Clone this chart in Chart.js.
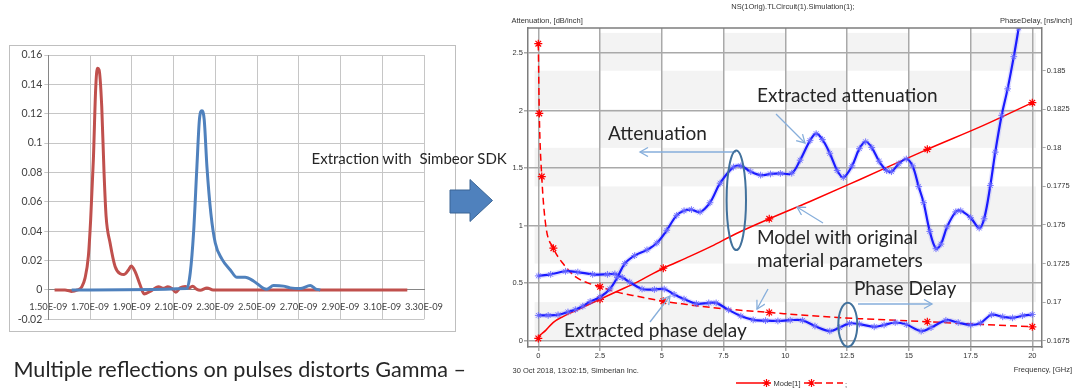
<!DOCTYPE html>
<html>
<head>
<meta charset="utf-8">
<script src="https://cdn.jsdelivr.net/npm/chart.js@4/dist/chart.umd.min.js"></script>
<style>
  html, body { margin: 0; padding: 0; background: #fff; width: 1075px; height: 390px; overflow: hidden; }
  #pulseBox { position: absolute; left: 9px; top: 45px; width: 447px; height: 287px; border: 1px solid #bfbfbf; box-sizing: border-box; background: #fff; }
  #pulseChart { position: absolute; left: 0; top: 0; }
  #simWrap { position: absolute; left: 500px; top: 0; width: 575px; height: 390px; }
  #overlay { position: absolute; left: 0; top: 0; pointer-events: none; }
  #overlay text { font-family: Lato, "Open Sans", sans-serif; fill: #262626; white-space: pre; }
</style>
</head>
<body>
<div id="pulseBox"><canvas id="pulseChart" width="445" height="285"></canvas></div>
<div id="simWrap"><canvas id="simChart" width="575" height="390"></canvas></div>

<svg id="overlay" width="1075" height="390" xmlns="http://www.w3.org/2000/svg" xml:space="preserve">
  <defs>
    <marker id="head" markerUnits="userSpaceOnUse" markerWidth="12" markerHeight="12" refX="9" refY="5" orient="auto">
      <path d="M1,0.5 L9,5 L1,9.5" fill="none" stroke="#86aedb" stroke-width="1.3"/>
    </marker>
  </defs>

  <!-- step between the two plots -->
  <text x="311.5" y="164" font-size="15">Extraction with  Simbeor SDK</text>
  <polygon points="450,190 470,190 470,179.5 492.5,200.5 470,221.5 470,213 450,213" fill="#4f81bd" stroke="#3a6595" stroke-width="1"/>

  <!-- call-outs on the extraction plot -->
  <text x="757" y="101.5" font-size="19">Extracted attenuation</text>
  <line x1="776" y1="114" x2="805" y2="143" stroke="#86aedb" stroke-width="1.3" marker-end="url(#head)"/>

  <text x="608" y="140" font-size="19">Attenuation</text>
  <line x1="736" y1="152" x2="640" y2="152" stroke="#86aedb" stroke-width="1.3" marker-end="url(#head)"/>
  <ellipse cx="736.3" cy="200.3" rx="9.7" ry="49.7" fill="none" stroke="#41719c" stroke-width="2"/>

  <text x="757" y="243.5" font-size="19">Model with original</text>
  <text x="757" y="266.5" font-size="19">material parameters</text>
  <line x1="823" y1="223" x2="797" y2="207" stroke="#86aedb" stroke-width="1.3" marker-end="url(#head)"/>
  <line x1="768" y1="289" x2="757" y2="309" stroke="#86aedb" stroke-width="1.3" marker-end="url(#head)"/>

  <text x="854" y="295" font-size="19">Phase Delay</text>
  <line x1="858" y1="304" x2="932" y2="304" stroke="#86aedb" stroke-width="1.3" marker-end="url(#head)"/>
  <ellipse cx="847.8" cy="324.7" rx="9.5" ry="22" fill="none" stroke="#41719c" stroke-width="2"/>

  <text x="564" y="336.5" font-size="19">Extracted phase delay</text>
  <line x1="650" y1="322" x2="670" y2="296" stroke="#86aedb" stroke-width="1.3" marker-end="url(#head)"/>

  <text x="13.5" y="376.5" font-size="21.6">Multiple reflections on pulses distorts Gamma –</text>
</svg>

<script>
// ---------- Reflected pulses (time domain) ----------
const pulseTimeTicks  = [1.5, 1.7, 1.9, 2.1, 2.3, 2.5, 2.7, 2.9, 3.1, 3.3];
const pulseTimeLabels = ['1.50E-09', '1.70E-09', '1.90E-09', '2.10E-09', '2.30E-09',
                         '2.50E-09', '2.70E-09', '2.90E-09', '3.10E-09', '3.30E-09'];
const pulseValueTicks  = [-0.02, 0, 0.02, 0.04, 0.06, 0.08, 0.1, 0.12, 0.14, 0.16];
const pulseValueLabels = ['-0.02', '0', '0.02', '0.04', '0.06', '0.08', '0.1', '0.12', '0.14', '0.16'];

// time in ns, reflection amplitude
const firstPulseTime = [1.53, 1.58, 1.61, 1.64, 1.66, 1.676, 1.692, 1.703, 1.716, 1.727, 1.735, 1.743,
  1.756, 1.767, 1.777, 1.796, 1.82, 1.845, 1.862, 1.884, 1.897, 1.916, 1.94, 1.959, 1.988, 2.028,
  2.052, 2.073, 2.092, 2.111, 2.132, 2.156, 2.175, 2.192, 2.21, 2.228, 2.26, 2.29, 3.22];
const firstPulseValue = [0, 0, -0.001, 0, 0.002, 0.008, 0.023, 0.048, 0.089, 0.137, 0.151, 0.150,
  0.125, 0.080, 0.050, 0.032, 0.016, 0.011, 0.0105, 0.0136, 0.0163, 0.0125, 0.0034, -0.0027, -0.001, 0.0022,
  0.0011, 0.0022, 0.001, -0.0015, 0.0015, 0.0024, 0.0015, 0.0025, 0.0005, -0.0002, 0.0014, 0, 0];

const secondPulseTime = [1.612, 2.164, 2.18, 2.196, 2.212, 2.224, 2.236, 2.247, 2.26, 2.279, 2.30,
  2.332, 2.372, 2.404, 2.443, 2.483, 2.531, 2.547, 2.579, 2.627, 2.659, 2.707, 2.755, 2.779, 2.803];
const secondPulseValue = [0, 0.001, 0.0115, 0.039, 0.084, 0.116, 0.122, 0.116, 0.084, 0.052, 0.032,
  0.021, 0.0136, 0.0086, 0.0086, 0.0061, 0.0011, 0.0005, 0.003, 0.0026, 0.0014, 0.0009, 0.003, 0.0008, 0];

// ---------- Extracted line parameters (frequency domain) ----------
const freqTicks  = [0, 2.5, 5, 7.5, 10, 12.5, 15, 17.5, 20];
const attenTicks = [0, 0.5, 1, 1.5, 2, 2.5];
const delayTicks = [0.1675, 0.17, 0.1725, 0.175, 0.1775, 0.18, 0.1825, 0.185];

// model computed with the original material parameters
const modelFreq   = [0, 0.04, 0.14, 0.3, 0.61, 1.0, 1.5, 2.0, 2.5, 3.2, 4.0, 5.06, 6, 7, 8, 9.35, 11, 13, 15.75, 18, 20];
const modelAtten  = [0.02, 0.04, 0.06, 0.09, 0.16, 0.21, 0.26, 0.31, 0.36, 0.43, 0.51, 0.63, 0.72, 0.82, 0.93, 1.06, 1.21, 1.40, 1.664, 1.87, 2.07];
const modelDelay  = [0.18675, 0.18223, 0.17814, 0.1750, 0.1735, 0.1725, 0.17165, 0.17125, 0.17099, 0.17065, 0.17038,
                     0.17006, 0.16985, 0.16965, 0.16950, 0.16933, 0.16912, 0.16893, 0.16873, 0.16855, 0.1684];
const attenMarked = [1, 0, 0, 0, 0, 0, 0, 0, 1, 0, 0, 1, 0, 0, 0, 1, 0, 0, 1, 0, 1];
const delayMarked = [1, 1, 1, 0, 1, 0, 0, 0, 1, 0, 0, 1, 0, 0, 0, 1, 0, 0, 1, 0, 1];

// attenuation extracted from the reflections
const extAttenFreq = [0, 0.4, 0.8, 1.2, 1.5, 1.8, 2.1, 2.5, 2.9, 3.2, 3.5, 3.9, 4.4, 4.8, 5.2, 5.6, 5.9, 6.2, 6.55, 6.95,
  7.36, 7.9, 8.2, 8.6, 9.0, 9.4, 9.8, 10.26, 10.6, 11.0, 11.25, 11.5, 11.8, 12.1, 12.35, 12.7, 13.0, 13.25, 13.5, 13.8,
  14.1, 14.3, 14.6, 14.9, 15.15, 15.4, 15.6, 15.85, 16.1, 16.3, 16.55, 16.9, 17.1, 17.5, 17.85, 18.05, 18.3, 18.5, 18.76, 19.0,
  19.25, 19.45];
const extAtten = [0.22, 0.22, 0.225, 0.25, 0.27, 0.3, 0.34, 0.38, 0.45, 0.55, 0.67, 0.74, 0.79, 0.85, 0.96, 1.09, 1.13, 1.14, 1.12, 1.20,
  1.37, 1.51, 1.52, 1.47, 1.44, 1.45, 1.455, 1.456, 1.57, 1.74, 1.80, 1.75, 1.63, 1.48, 1.42, 1.52, 1.67, 1.73, 1.68, 1.56,
  1.48, 1.47, 1.54, 1.58, 1.52, 1.34, 1.20, 0.95, 0.80, 0.84, 0.99, 1.12, 1.13, 1.07, 0.98, 1.06, 1.35, 1.64, 1.96, 2.19,
  2.47, 2.72];

// phase delay extracted from the reflections
const extDelayFreq = [0, 0.5, 1.1, 1.6, 2.2, 2.8, 3.1, 3.4, 3.7, 4.2, 4.7, 5.1, 5.5, 5.9, 6.4, 6.9, 7.2, 7.7, 8.2, 8.7,
  9.2, 9.7, 10.2, 10.7, 11.2, 11.8, 12.2, 12.6, 13.0, 13.6, 14.0, 14.45, 14.9, 15.5, 15.9, 16.5, 17.0, 17.5, 17.9, 18.35,
  18.8, 19.2, 19.6, 20];
const extDelay = [0.1717, 0.1718, 0.1720, 0.17195, 0.1718, 0.1718, 0.17183, 0.1716, 0.1713, 0.17085, 0.17082, 0.17085, 0.1705, 0.1702, 0.1699, 0.16995, 0.16995, 0.1695, 0.1691, 0.16885,
  0.1688, 0.16878, 0.16883, 0.16882, 0.16845, 0.16812, 0.16835, 0.16862, 0.16858, 0.1684, 0.16852, 0.16868, 0.16855, 0.16812, 0.16835, 0.16882, 0.16868, 0.16852, 0.16865, 0.16918,
  0.16905, 0.16898, 0.16912, 0.1692];

const zip = (xs, ys) => xs.map((x, i) => ({ x, y: ys[i] }));

// ================= time-domain chart =================
const excelGrid = '#c6c6c6';
const excelFont = { family: 'Lato, "Open Sans", sans-serif', size: 10.5 };
const excelTimeFont = { family: 'Lato, "Open Sans", sans-serif', size: 9.3 };

new Chart(document.getElementById('pulseChart'), {
  type: 'line',
  data: {
    datasets: [
      { data: zip(secondPulseTime, secondPulseValue), borderColor: '#4f81bd', borderWidth: 3,
        pointRadius: 0, cubicInterpolationMode: 'monotone' },
      { data: zip(firstPulseTime, firstPulseValue), borderColor: '#c0504d', borderWidth: 3,
        pointRadius: 0, cubicInterpolationMode: 'monotone' }
    ]
  },
  options: {
    responsive: false, animation: false, devicePixelRatio: 1,
    layout: { padding: { top: 9, right: 31, bottom: 11.7, left: 0 } },
    plugins: { legend: { display: false }, tooltip: { enabled: false } },
    scales: {
      x: {
        type: 'linear', min: 1.5, max: 3.3, position: { y: 0 },
        afterBuildTicks: s => { s.ticks = pulseTimeTicks.map(v => ({ value: v })); },
        ticks: { callback: (v, i) => pulseTimeLabels[i], font: excelTimeFont, color: '#404040',
                 maxRotation: 0, autoSkip: false, padding: 11 },
        grid: { color: excelGrid, lineWidth: 1, drawTicks: false },
        border: { color: '#868686', width: 1 }
      },
      y: {
        type: 'linear', min: -0.02, max: 0.16,
        afterBuildTicks: s => { s.ticks = pulseValueTicks.map(v => ({ value: v })); },
        afterFit: s => { s.width = 38.3; },
        ticks: { callback: (v, i) => pulseValueLabels[i], font: excelFont, color: '#404040', padding: 2 },
        grid: { color: excelGrid, lineWidth: 1, tickLength: 4 },
        border: { color: '#868686', width: 1 }
      }
    }
  }
});

// ================= frequency-domain chart =================
const smallFont = '7.5px "Liberation Sans", Arial, sans-serif';
const gridGray = '#a9a9a9';
const frameGray = '#7d7d7d';
const bandFreqEdges  = [-0.15, 2.5, 5, 7.5, 10, 12.5, 15, 17.5, 20.15];
const bandDelayEdges = [0.1675, 0.17, 0.1725, 0.175, 0.1775, 0.18, 0.1825, 0.185, 0.18745];

function drawAsterisk(ctx, x, y, r, color, w) {
  ctx.save();
  ctx.strokeStyle = color; ctx.lineWidth = w;
  ctx.beginPath();
  for (let k = 0; k < 4; k++) {
    const a = k * Math.PI / 4;
    ctx.moveTo(x - r * Math.cos(a), y - r * Math.sin(a));
    ctx.lineTo(x + r * Math.cos(a), y + r * Math.sin(a));
  }
  ctx.stroke();
  ctx.restore();
}

const simDecor = {
  id: 'simDecor',
  beforeDraw(chart) {
    const { ctx, scales } = chart;
    const sx = scales.x, sd = scales.yD;
    ctx.save();
    ctx.fillStyle = '#f3f3f3';
    for (let r = 0; r < bandDelayEdges.length - 1; r++) {
      for (let c = 0; c < bandFreqEdges.length - 1; c++) {
        if ((r + c) % 2 !== 0) continue;
        const x0 = sx.getPixelForValue(bandFreqEdges[c]);
        const x1 = sx.getPixelForValue(bandFreqEdges[c + 1]);
        const y0 = sd.getPixelForValue(bandDelayEdges[r + 1]);
        const y1 = sd.getPixelForValue(bandDelayEdges[r]);
        ctx.fillRect(x0, y0, x1 - x0, y1 - y0);
      }
    }
    ctx.restore();
  },
  afterDraw(chart) {
    const { ctx, chartArea: a } = chart;
    ctx.save();
    // frame top edge
    ctx.strokeStyle = frameGray; ctx.lineWidth = 1.5;
    ctx.beginPath(); ctx.moveTo(a.left, a.top); ctx.lineTo(a.right, a.top); ctx.stroke();

    ctx.fillStyle = '#333';
    ctx.font = smallFont;
    ctx.textBaseline = 'middle';
    ctx.textAlign = 'center';
    ctx.fillText('NS(1Orig).TLCircuit(1).Simulation(1);', 293, 6.5);
    ctx.textAlign = 'left';
    ctx.fillText('Attenuation, [dB/inch]', 11.5, 20.5);
    ctx.fillText('30 Oct 2018, 13:02:15, Simberian Inc.', 12.5, 371);
    ctx.textAlign = 'right';
    ctx.fillText('PhaseDelay, [ns/inch]', 572, 20.5);
    ctx.fillText('Frequency, [GHz]', 572, 370);

    // legend
    const ly = 383;
    const ds = chart.data.datasets;
    const solid = ds.find(d => d.label === 'Mode[1]');
    const dashed = ds.find(d => d.label === 'Mode[1] delay');
    ctx.strokeStyle = solid.borderColor; ctx.lineWidth = 1.5;
    ctx.beginPath(); ctx.moveTo(236, ly); ctx.lineTo(271, ly); ctx.stroke();
    drawAsterisk(ctx, 266.5, ly, 4, solid.borderColor, 1.2);
    ctx.textAlign = 'left';
    ctx.fillStyle = '#333';
    ctx.fillText('Mode[1]', 273.5, ly + 0.5);
    ctx.strokeStyle = dashed.borderColor; ctx.lineWidth = 1.5;
    ctx.setLineDash(dashed.borderDash);
    ctx.beginPath(); ctx.moveTo(304, ly); ctx.lineTo(343, ly); ctx.stroke();
    ctx.setLineDash([]);
    drawAsterisk(ctx, 311.5, ly, 4, dashed.borderColor, 1.2);
    ctx.fillText(';', 345, ly + 1.5);
    ctx.restore();
  }
};

const haloBlue = 'rgba(125,125,255,0.22)';
const starBlue = 'rgba(100,100,255,0.85)';

new Chart(document.getElementById('simChart'), {
  type: 'line',
  data: {
    datasets: [
      { label: 'halo atten', data: zip(extAttenFreq, extAtten), yAxisID: 'yA', borderColor: haloBlue,
        borderWidth: 5, pointRadius: 0, tension: 0.35 },
      { label: 'extracted atten', data: zip(extAttenFreq, extAtten), yAxisID: 'yA', borderColor: '#0000ff',
        borderWidth: 2.2, pointStyle: 'star', pointRadius: 3.4, pointBorderColor: starBlue,
        pointBorderWidth: 1, tension: 0.35 },
      { label: 'halo delay', data: zip(extDelayFreq, extDelay), yAxisID: 'yD', borderColor: haloBlue,
        borderWidth: 5, pointRadius: 0, tension: 0.35 },
      { label: 'extracted delay', data: zip(extDelayFreq, extDelay), yAxisID: 'yD', borderColor: '#0000ff',
        borderWidth: 2.2, pointStyle: 'star', pointRadius: 3.4, pointBorderColor: starBlue,
        pointBorderWidth: 1, tension: 0.35 },
      { label: 'Mode[1]', data: zip(modelFreq, modelAtten), yAxisID: 'yA', borderColor: '#ff0000',
        borderWidth: 1.5, pointStyle: 'star', pointRadius: attenMarked.map(m => (m ? 4 : 0)),
        pointBorderColor: '#ff0000', pointBorderWidth: 1.2, cubicInterpolationMode: 'monotone' },
      { label: 'Mode[1] delay', data: zip(modelFreq, modelDelay), yAxisID: 'yD', borderColor: '#ff0000',
        borderWidth: 1.5, borderDash: [7, 4], pointStyle: 'star', pointRadius: delayMarked.map(m => (m ? 4 : 0)),
        pointBorderColor: '#ff0000', pointBorderWidth: 1.2, cubicInterpolationMode: 'monotone' }
    ]
  },
  options: {
    responsive: false, animation: false, devicePixelRatio: 1,
    layout: { padding: { top: 28, right: 0, bottom: 0, left: 0 } },
    plugins: { legend: { display: false }, tooltip: { enabled: false } },
    scales: {
      x: {
        type: 'linear', position: 'bottom', min: -0.417, max: 20.38,
        afterBuildTicks: s => { s.ticks = freqTicks.map(v => ({ value: v })); },
        afterFit: s => { s.height = 43; },
        ticks: { font: { family: '"Liberation Sans", Arial, sans-serif', size: 7.5 }, color: '#333',
                 maxRotation: 0, autoSkip: false, padding: 0, callback: v => String(v) },
        grid: { color: gridGray, lineWidth: 1.5, tickLength: 4 },
        border: { color: frameGray, width: 1.5 }
      },
      yA: {
        type: 'linear', position: 'left', min: -0.0548, max: 2.7193,
        afterBuildTicks: s => { s.ticks = attenTicks.map(v => ({ value: v })); },
        afterFit: s => { s.width = 28; },
        ticks: { font: { family: '"Liberation Sans", Arial, sans-serif', size: 7.5 }, color: '#333',
                 padding: 1, callback: v => String(v) },
        grid: { color: gridGray, lineWidth: 1.5, tickLength: 4 },
        border: { color: frameGray, width: 1.5 }
      },
      yD: {
        type: 'linear', position: 'right', min: 0.167092, max: 0.187768,
        afterBuildTicks: s => { s.ticks = delayTicks.map(v => ({ value: v })); },
        afterFit: s => { s.width = 33.3; },
        ticks: { font: { family: '"Liberation Sans", Arial, sans-serif', size: 7.5 }, color: '#333',
                 padding: 1, callback: v => String(Number(v.toFixed(4))) },
        grid: { drawOnChartArea: false, color: gridGray, lineWidth: 1, tickLength: 4 },
        border: { color: frameGray, width: 1.5 }
      }
    }
  },
  plugins: [simDecor]
});
</script>
</body>
</html>
